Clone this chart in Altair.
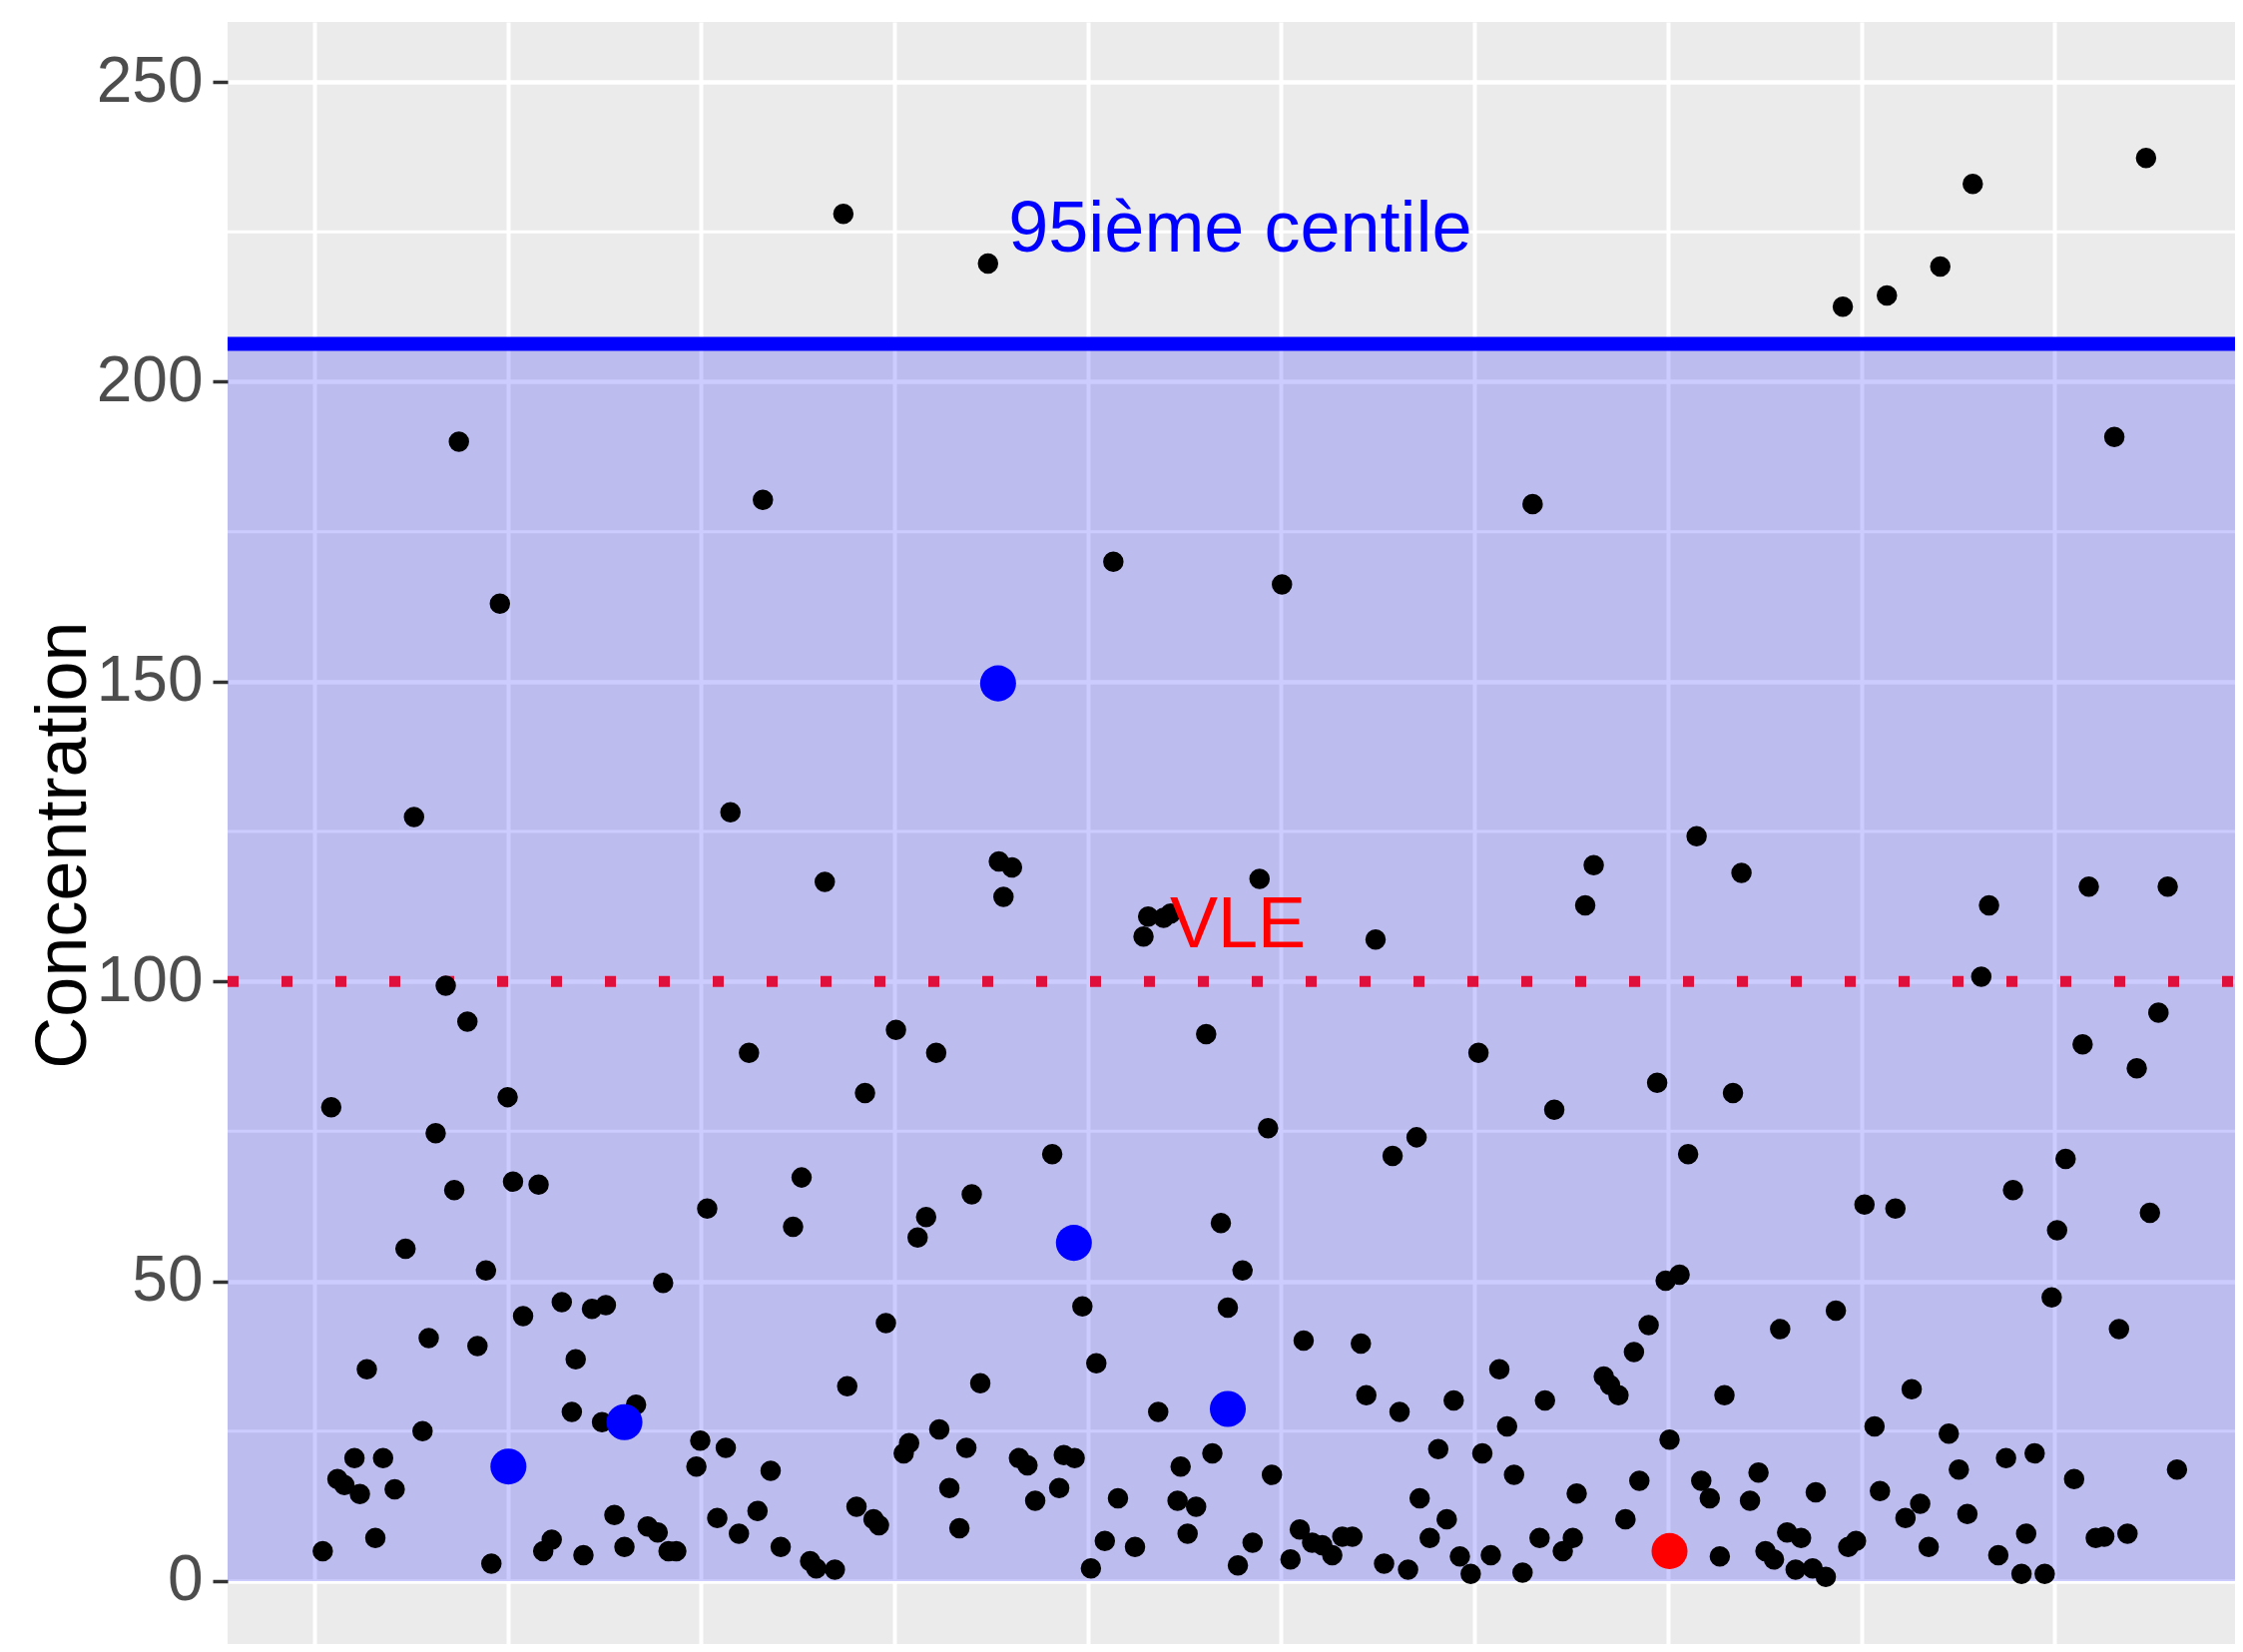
import altair as alt
import pandas as pd

xs = [1.1, 2.2, 3.0, 3.9, 5.2, 5.9, 6.8, 7.9, 8.9, 10.4, 11.8, 12.9, 14.0, 14.8, 15.7, 17.0, 18.1, 18.7,
      19.8, 21.1, 22.2, 22.9, 24.0, 25.0, 25.7, 27.0, 29.0, 29.6, 30.7, 32.0, 33.3, 33.8, 34.8, 35.9,
      37.2, 37.7, 38.8, 40.1, 41.6, 43.1, 44.4, 45.1, 45.8, 46.8, 49.4, 49.9, 50.8, 52.1, 53.2, 53.8,
      54.9, 56.2, 57.3, 58.0, 59.0, 60.3, 61.9, 63.0, 64.1, 64.9, 66.0, 67.3, 68.4, 68.9, 70.1, 71.2,
      72.3, 73.0, 73.9, 75.2, 76.2, 76.9, 78.0, 79.1, 80.4, 80.8, 82.1, 83.4, 84.3, 85.0, 86.1, 87.1,
      88.5, 89.1, 90.2, 91.1, 92.2, 93.2, 95.4, 96.3, 96.9, 98.3, 99.3, 100.4, 101.1, 102.2, 103.3,
      103.9, 106.1, 107.2, 107.8, 109.1, 109.8, 110.7, 111.6, 112.0, 112.9, 114.0, 115.3, 116.1, 117.2,
      118.1, 119.4, 120.0, 121.3, 122.2, 123.3, 123.8, 125.1, 126.2, 127.4, 127.9, 129.0, 130.3, 131.6,
      132.9, 134.2, 135.3, 136.0, 137.2, 138.3, 139.4, 140.3, 141.4, 142.5, 142.9, 144.2, 145.3, 146.4,
      147.3, 148.1, 149.5, 150.5, 151.0, 152.1, 153.2, 154.2, 155.1, 156.2, 157.5, 158.4, 159.1, 160.3,
      161.4, 162.7, 163.2, 164.3, 165.4, 166.7, 167.5, 168.6, 169.5, 170.6, 171.3, 172.5, 173.6, 174.7,
      175.2, 176.5, 177.6, 178.7, 179.3, 180.4, 181.7, 182.3, 183.4, 184.5, 185.6, 186.7, 187.6, 188.7,
      189.5, 190.4, 191.5, 192.2, 193.7, 194.1, 195.4, 196.7, 197.6, 198.3, 199.3, 200.4, 201.7, 202.4,
      203.3, 204.4, 205.7, 206.5, 207.6, 208.7, 210.2, 211.3, 212.6, 213.7, 214.4, 215.5, 216.5, 217.7,
      218.7, 219.6, 220.7, 221.3, 222.4, 223.7, 224.6, 225.3, 226.4, 227.5, 228.6, 229.4, 230.3, 231.4,
      232.7, 233.3, 234.4, 235.6, 236.8, 237.3, 238.4, 239.6, 240.8]
ys = [5.0, 79.0, 17.0, 16.0, 20.5, 14.5, 35.3, 7.2, 20.5, 15.3, 55.4, 127.4, 25.0, 40.5, 74.7, 99.3, 65.2, 190.0,
      93.3, 39.2, 51.8, 2.9, 163.0, 80.7, 66.6, 44.2, 66.1, 5.0, 6.9, 46.5, 28.2, 37.0, 4.3, 45.4,
      26.5, 46.0, 11.0, 5.7, 29.4, 9.1, 8.1, 49.7, 5.0, 5.0, 19.1, 23.4, 62.1, 10.5, 22.2, 128.2,
      7.9, 88.1, 11.7, 180.3, 18.4, 5.7, 59.1, 67.3, 3.3, 2.1, 116.6, 1.9, 228.0, 32.5, 12.4, 81.4,
      10.3, 9.3, 43.0, 91.9, 21.3, 23.0, 57.3, 60.7, 88.1, 25.3, 15.5, 8.8, 22.2, 64.5, 33.0, 219.7,
      120.0, 114.1, 119.0, 20.5, 19.3, 13.4, 71.2, 15.5, 21.0, 20.5, 45.8, 2.1, 36.3, 6.7, 170.0,
      13.8, 5.7, 107.5, 110.8, 28.2, 110.6, 111.3, 13.4, 19.1, 7.9, 12.4, 91.2, 21.3, 59.7,
      45.6, 2.6, 51.8, 6.4, 117.1, 75.5, 17.7, 166.2, 3.6, 8.6, 40.1, 6.4, 6.0, 4.3,
      7.4, 7.4, 39.6, 31.0, 107.0, 2.9, 70.9, 28.2, 1.9, 74.0, 13.8, 7.2, 22.0, 10.3,
      30.1, 4.1, 1.2, 88.1, 21.3, 4.3, 35.3, 25.8, 17.7, 1.4, 179.6, 7.2, 30.1, 78.6,
      5.0, 7.2, 14.6, 112.7, 119.4, 34.1, 32.7, 31.0, 10.3, 38.2, 16.7, 42.7, 83.1, 50.1,
      23.6, 51.1, 71.2, 124.2, 16.7, 13.8, 4.1, 31.0, 81.4, 118.1, 13.4, 18.1, 5.0, 3.6,
      42.0, 8.1, 1.9, 7.2, 2.1, 14.8, 0.7, 45.1, 212.5, 5.7, 6.7, 62.8, 25.8, 15.0,
      214.4, 62.1, 10.5, 32.0, 12.9, 5.7, 219.2, 24.6, 18.6, 11.2, 233.0, 100.8, 112.7, 4.3,
      20.5, 65.2, 1.2, 7.9, 21.3, 1.2, 47.3, 58.5, 70.4, 17.0, 89.5, 115.8, 7.2, 7.4,
      190.8, 42.0, 7.9, 85.5, 237.3, 61.4, 94.8, 115.8, 18.6]

# highlighted samples
blue_x = [25.1, 40.1, 88.4, 98.2, 118.1]
blue_y = [19.1, 26.5, 149.7, 56.4, 28.7]
red_x = [175.2]
red_y = [5.0]

p95 = 206.3
vle = 100
centile_label = ["95ième centile"]
centile_pos = [119.7, 225.4]
vle_label = ["VLE"]
vle_pos = [119.4, 109.3]

y_major = [0, 50, 100, 150, 200, 250]
y_minor = [25, 75, 125, 175, 225]
x_grid = [0, 25, 50, 75, 100, 125, 150, 175, 200, 225, 250]

W, H = 2011, 1625
xdom = [-11.2, 248.3]
ydom = [-10.5, 260.0]

pts = pd.DataFrame({"x": xs, "y": ys})
blue = pd.DataFrame({"x": blue_x, "y": blue_y})
red = pd.DataFrame({"x": red_x, "y": red_y})

xscale = alt.Scale(domain=xdom, nice=False, zero=False)
yscale = alt.Scale(domain=ydom, nice=False, zero=False)

X = alt.X("x:Q", scale=xscale,
          axis=alt.Axis(labels=False, ticks=False, domain=False, title=None, values=x_grid,
                        grid=True, gridColor="#FFFFFF", gridWidth=4, minExtent=0, maxExtent=0))
Y = alt.Y("y:Q", scale=yscale,
          axis=alt.Axis(values=y_major, grid=True, gridColor="#FFFFFF", gridWidth=4.5,
                        domain=False, tickSize=15, tickWidth=3.5, tickColor="#333333",
                        labelFont="Liberation Sans", labelFontSize=64, labelColor="#4D4D4D",
                        labelPadding=10, title="Concentration", titleFont="Liberation Sans",
                        titleFontSize=72, titleColor="#000000", titleFontWeight="normal",
                        titleAngle=-90, titleAlign="center", titleBaseline="alphabetic",
                        titleX=-143, titleY=824))

base_pts = alt.Chart(pts).mark_point(filled=True, shape="circle", size=420, color="#000000", opacity=1).encode(x=X, y=Y)

minor = alt.Chart(pd.DataFrame({"y": y_minor})).mark_rule(color="#FFFFFF", strokeWidth=3).encode(
    y=alt.Y("y:Q", scale=yscale))

band = alt.Chart(pd.DataFrame({"y": [0], "y2": [p95]})).mark_rect(color="#0000FF", opacity=0.2).encode(
    x=alt.value(0), x2=alt.value(W), y=alt.Y("y:Q", scale=yscale), y2="y2:Q")

p95_line = alt.Chart(pd.DataFrame({"y": [p95]})).mark_rule(color="#0000FF", strokeWidth=14).encode(
    y=alt.Y("y:Q", scale=yscale))

vle_line = alt.Chart(pd.DataFrame({"y": [vle]})).mark_rule(
    color="#E0103C", strokeWidth=11, strokeDash=[11, 43], strokeCap="butt").encode(
    x=alt.value(0), x2=alt.value(W), y=alt.Y("y:Q", scale=yscale))

blue_pts = alt.Chart(blue).mark_point(filled=True, shape="circle", size=1300, color="#0000FF", opacity=1).encode(
    x=alt.X("x:Q", scale=xscale), y=alt.Y("y:Q", scale=yscale))
red_pts = alt.Chart(red).mark_point(filled=True, shape="circle", size=1300, color="#FF0000", opacity=1).encode(
    x=alt.X("x:Q", scale=xscale), y=alt.Y("y:Q", scale=yscale))

t1 = alt.Chart(pd.DataFrame({"x": [centile_pos[0]], "y": [centile_pos[1]], "t": centile_label})).mark_text(
    font="Liberation Sans", fontSize=72, color="#0000FF", align="center", baseline="middle").encode(
    x=alt.X("x:Q", scale=xscale), y=alt.Y("y:Q", scale=yscale), text="t:N")
t2 = alt.Chart(pd.DataFrame({"x": [vle_pos[0]], "y": [vle_pos[1]], "t": vle_label})).mark_text(
    font="Liberation Sans", fontSize=72, color="#FF0000", align="center", baseline="middle").encode(
    x=alt.X("x:Q", scale=xscale), y=alt.Y("y:Q", scale=yscale), text="t:N")

chart = alt.layer(minor, band, p95_line, vle_line, base_pts, blue_pts, red_pts, t1, t2).properties(
    width=W, height=H,
    padding={"left": 220, "top": 14, "right": 0, "bottom": 0},
    autosize=alt.AutoSizeParams(type="none"),
).configure(background="#FFFFFF").configure_view(fill="#EBEBEB", strokeWidth=0)

chart.save("out.html", embed_options={"renderer": "svg", "actions": False})
